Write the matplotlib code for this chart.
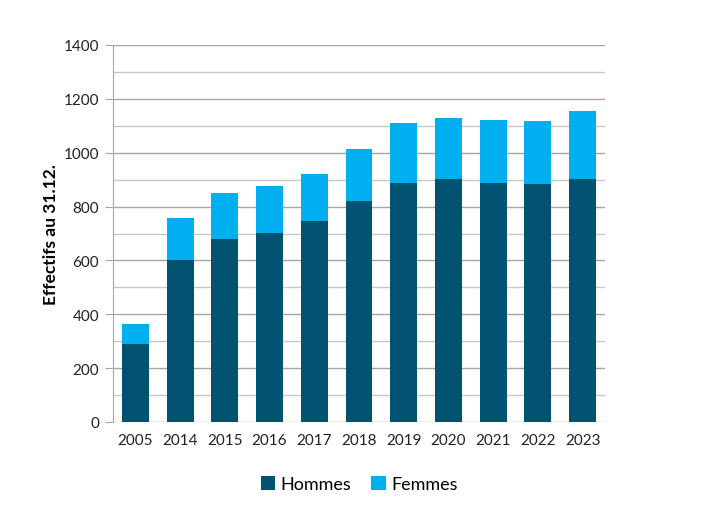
import matplotlib
matplotlib.use("Agg")
import matplotlib.pyplot as plt
import numpy as np

# ── data ─────────────────────────────────────────────────────────────────────
years   = ["2005", "2014", "2015", "2016", "2017", "2018",
           "2019", "2020", "2021", "2022", "2023"]
hommes  = [290, 600, 681, 702, 748, 822, 889, 901, 889, 884, 901]
femmes  = [74, 157, 169, 174, 174, 190, 221, 228, 231, 232, 254]

_DARK  = "#005271"
_LIGHT = "#00AFEF"
_GRID  = "#A6A6A6"
_GRID2 = "#C8C8C8"

plt.rcParams["font.family"] = ["Lato", "DejaVu Sans"]

fig = plt.figure(figsize=(7.07, 5.06), dpi=100)
ax = fig.add_axes([113 / 707, 1 - 423 / 506, 492 / 707, 377 / 506])

x = np.arange(len(years))
ax.bar(x, hommes, width=0.6, color=_DARK, label="Hommes", zorder=3)
ax.bar(x, femmes, width=0.6, bottom=hommes, color=_LIGHT, label="Femmes", zorder=3)

ax.set_xlim(-0.5, len(years) - 0.5)
ax.set_ylim(0, 1400)
ax.set_yticks(range(0, 1401, 200))
ax.set_yticks(range(100, 1400, 200), minor=True)
ax.grid(axis="y", which="major", color=_GRID, linewidth=1.0, zorder=0)
ax.grid(axis="y", which="minor", color=_GRID2, linewidth=1.0, zorder=0)
ax.set_xticks(x)
ax.set_xticklabels(years)

ax.tick_params(axis="y", which="major", length=6, color=_GRID, labelsize=11,
               labelcolor="#222222", pad=4)
ax.tick_params(axis="y", which="minor", length=0)
ax.tick_params(axis="x", length=0, labelsize=11, labelcolor="#222222", pad=8)

for s in ("top", "right", "bottom"):
    ax.spines[s].set_visible(False)
ax.spines["left"].set_color(_GRID)

ax.set_ylabel("Effectifs au 31.12.", fontsize=12.5, fontweight="bold", labelpad=3)

ax.legend(loc="upper center", bbox_to_anchor=(0.5, -0.1), ncol=2, frameon=False,
          fontsize=13, handlelength=0.8, handleheight=0.8, handletextpad=0.3,
          columnspacing=1.1)

fig.savefig("out.png", dpi=100, facecolor="white")
